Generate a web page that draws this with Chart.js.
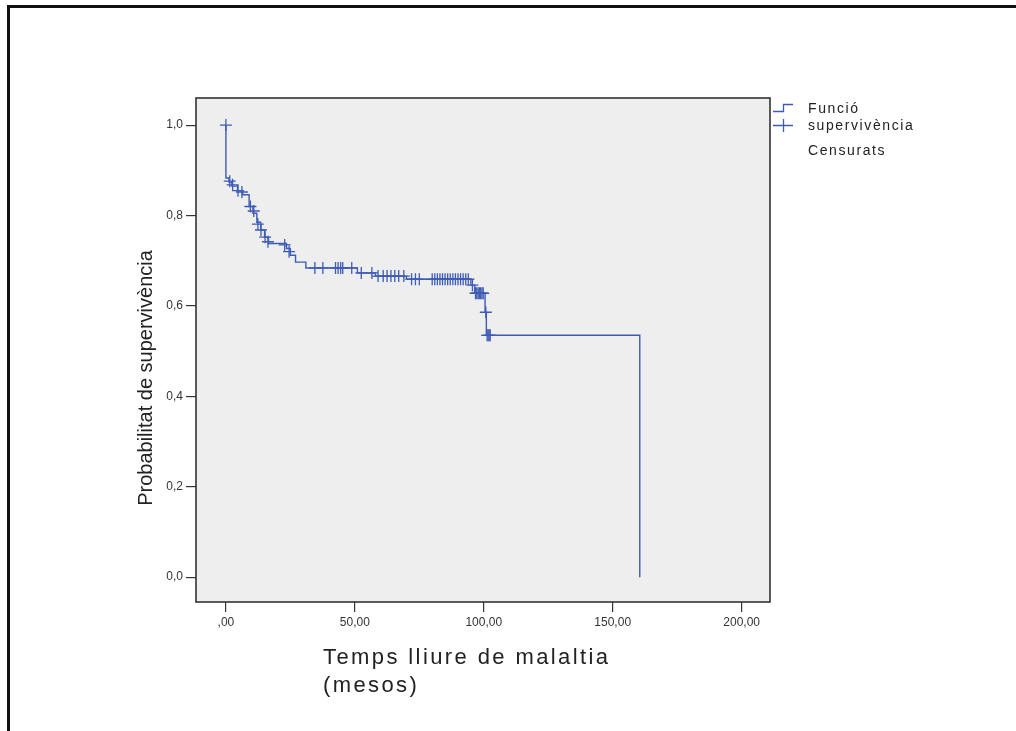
<!DOCTYPE html>
<html>
<head>
<meta charset="utf-8">
<script src="https://cdn.jsdelivr.net/npm/chart.js@4.4.1/dist/chart.umd.min.js"></script>
<style>
  html, body { margin: 0; padding: 0; background: #fff; width: 1016px; height: 731px; overflow: hidden; font-family: 'Liberation Sans', Arial, sans-serif; }
  #wrap { position: absolute; left: 0; top: 0; width: 1016px; height: 731px; }
  #frame { position: absolute; left: 7px; top: 5px; right: -10px; bottom: -10px; border-left: 3px solid #111; border-top: 3px solid #111; }
  #ytitle { position: absolute; left: -5px; top: 366px; width: 300px; text-align: center; font-size: 20px; color: #222; transform-origin: 150px 12px; transform: rotate(-90deg); line-height: 24px; }
  #xtitle { position: absolute; left: 323px; top: 643px; font-size: 22px; color: #222; line-height: 28px; letter-spacing: 2.4px; }
  #legend { position: absolute; left: 770px; top: 98px; font-size: 14px; color: #222; }
  #legend svg { position: absolute; left: 0; top: 0; }
  .lg { position: absolute; left: 38px; white-space: nowrap; line-height: 16px; letter-spacing: 1.6px; }
</style>
</head>
<body>
<div id="wrap">
  <canvas id="km" width="1016" height="731"></canvas>
  <div id="frame"></div>
  <div id="ytitle">Probabilitat de supervivència</div>
  <div id="xtitle">Temps lliure de malaltia<br>(mesos)</div>
  <div id="legend">
    <svg width="30" height="40">
      <path d="M3 13.5 H13.5 V6.5 H23" fill="none" stroke="#3e5bb5" stroke-width="1.3"/>
      <path d="M3 27.5 H23 M13.5 21 V34" fill="none" stroke="#3e5bb5" stroke-width="1.3"/>
    </svg>
    <div class="lg" style="top:2px">Funció</div>
    <div class="lg" style="top:19px">supervivència</div>
    <div class="lg" style="top:44px">Censurats</div>
  </div>
</div>
<script>
// Kaplan-Meier step curve (time in months, survival after each step)
const stepTimes = [0, 0, 1.2, 2.3, 4.5, 6.5, 9, 10.5, 12, 13.5, 15, 16.5, 23.5, 25, 27, 31, 51, 58, 70, 95, 96.5, 100.5, 101, 160.5];
const stepSurv  = [1.0, 0.883, 0.874, 0.865, 0.855, 0.846, 0.82, 0.805, 0.785, 0.768, 0.752, 0.738, 0.727, 0.712, 0.697, 0.684, 0.673, 0.666, 0.659, 0.646, 0.628, 0.586, 0.535, 0];

// censored observations
const censorTimes = [0, 1.5, 2.6, 4.7, 6.2, 9.5, 10.8, 12.4, 13.6, 15.2, 16.3, 22.8, 24.5,
  34.5, 37.6, 42.5, 43.5, 44.5, 45.3, 48.8, 52.5, 56.6, 59, 61, 62.5, 64, 65.5, 67, 69,
  72, 73.5, 75, 80, 81, 82, 83, 84, 85, 86, 87, 88, 89, 90, 91, 92, 93, 94,
  95.6, 96.8, 97.3, 97.8, 98.3, 98.8, 99.3, 99.8, 100.8, 101.3, 101.7, 102.1, 102.5];
const censorSurv = [1.0, 0.876, 0.868, 0.855, 0.852, 0.82, 0.81, 0.781, 0.768, 0.752, 0.742, 0.735, 0.72,
  0.684, 0.684, 0.684, 0.684, 0.684, 0.684, 0.684, 0.673, 0.673, 0.666, 0.666, 0.666, 0.666, 0.666, 0.666, 0.666,
  0.659, 0.659, 0.659, 0.659, 0.659, 0.659, 0.659, 0.659, 0.659, 0.659, 0.659, 0.659, 0.659, 0.659, 0.659, 0.659, 0.659, 0.659,
  0.646, 0.628, 0.628, 0.628, 0.628, 0.628, 0.628, 0.628, 0.586, 0.535, 0.535, 0.535, 0.535];

const xTickValues = [0, 50, 100, 150, 200];
const xTickLabels = [',00', '50,00', '100,00', '150,00', '200,00'];
const yTickValues = [0, 0.2, 0.4, 0.6, 0.8, 1.0];
const yTickLabels = ['0,0', '0,2', '0,4', '0,6', '0,8', '1,0'];

const BLUE = '#3e5bb5';

const plotBox = {
  id: 'plotBox',
  beforeDraw(chart) {
    const { ctx, chartArea: a } = chart;
    ctx.save();
    ctx.fillStyle = '#eeeeee';
    ctx.fillRect(a.left, a.top, a.right - a.left, a.bottom - a.top);
    ctx.restore();
  },
  afterDraw(chart) {
    const { ctx, chartArea: a } = chart;
    ctx.save();
    ctx.strokeStyle = '#333';
    ctx.lineWidth = 1.6;
    ctx.strokeRect(a.left, a.top, a.right - a.left, a.bottom - a.top);
    ctx.restore();
  }
};

const tickFont = { family: "'Liberation Sans', Arial, sans-serif", size: 12 };

new Chart(document.getElementById('km').getContext('2d'), {
  type: 'scatter',
  data: {
    datasets: [
      {
        data: stepTimes.map((t, i) => ({ x: t, y: stepSurv[i] })),
        showLine: true, stepped: true,
        borderColor: BLUE, borderWidth: 1.4, pointRadius: 0, fill: false
      },
      {
        data: censorTimes.map((t, i) => ({ x: t, y: censorSurv[i] })),
        showLine: false, pointStyle: 'cross', pointRadius: 6,
        borderColor: BLUE, borderWidth: 1.3, backgroundColor: BLUE
      }
    ]
  },
  options: {
    responsive: false, animation: false,
    layout: { padding: { left: 156, top: 98, right: 246, bottom: 89 } },
    plugins: { legend: { display: false }, tooltip: { enabled: false } },
    scales: {
      x: {
        type: 'linear', min: -11.6, max: 211,
        afterFit: s => { s.height = 40; },
        afterBuildTicks: s => { s.ticks = xTickValues.map(v => ({ value: v })); },
        ticks: { color: '#333', font: tickFont, padding: 3, maxRotation: 0,
          callback: (v, i) => xTickLabels[i] },
        grid: { display: true, drawOnChartArea: false, drawTicks: true, tickLength: 10, color: '#333', lineWidth: 1.2 },
        border: { display: false }
      },
      y: {
        type: 'linear', min: -0.055, max: 1.06,
        afterFit: s => { s.width = 40; },
        afterBuildTicks: s => { s.ticks = yTickValues.map(v => ({ value: v })); },
        ticks: { color: '#333', font: tickFont, padding: 3,
          callback: (v, i) => yTickLabels[i] },
        grid: { display: true, drawOnChartArea: false, drawTicks: true, tickLength: 10, color: '#333', lineWidth: 1.2 },
        border: { display: false }
      }
    }
  },
  plugins: [plotBox]
});
</script>
</body>
</html>
